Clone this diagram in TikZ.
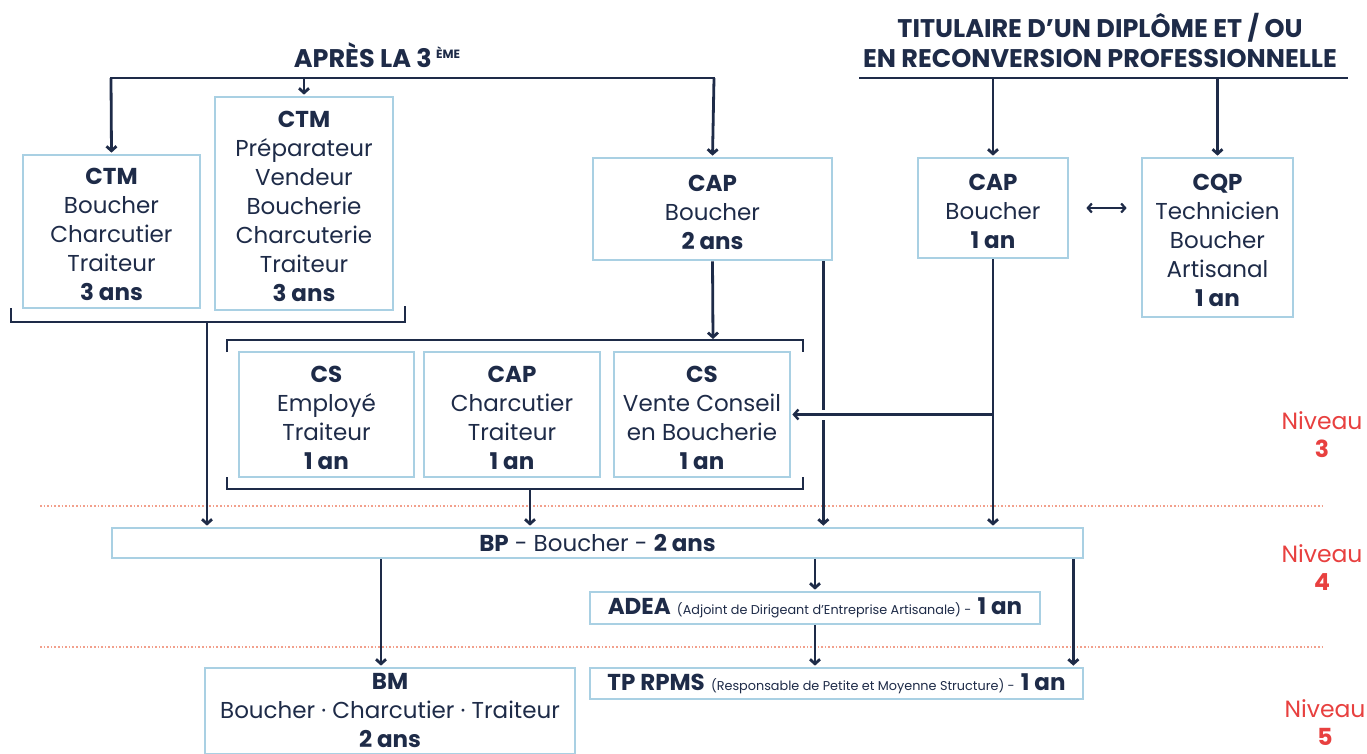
\documentclass[tikz,border=0pt]{standalone}
\usepackage{fontspec}
\setmainfont{Poppins}
\usetikzlibrary{arrows.meta,positioning}
\definecolor{navy}{HTML}{1E2B48}
\definecolor{boxblue}{HTML}{A9D0E3}
\definecolor{niveaured}{HTML}{E8403F}
\definecolor{salmon}{HTML}{F2A08C}
\tikzset{
  title/.style={font=\bfseries\fontsize{25.5}{30}\selectfont,text=navy,align=center},
  box/.style={draw=boxblue,line width=2.7pt,fill=white,inner sep=0pt,align=center,text=navy,font=\fontsize{23}{29}\selectfont},
  wide/.style={box,font=\fontsize{23}{25}\selectfont},
  niveau/.style={text=niveaured,align=center,font=\fontsize{23.5}{28}\selectfont},
  conn/.style={draw=navy,line width=2.8pt,line cap=rect},
  arr/.style={-{Straight Barb[length=4.5pt,width=10pt]},draw=navy,line width=2.8pt,shorten >=1pt},
  level/.style={draw=salmon,line width=2pt,dash pattern=on 1.6pt off 2pt}
}
\newcommand\petit[1]{{\fontsize{12.8}{15}\selectfont #1}}
\newcommand\tete[1]{\rule{0pt}{23pt}\textbf{#1}}
\begin{document}
\begin{tikzpicture}[x=1pt,y=-1pt]
\clip (0,0) rectangle (1367,753);
\fill[white] (0,0) rectangle (1367,753);
% titres
\node[title] (apres) at (377,55) {APRÈS LA 3\,\raisebox{0.6ex}{\fontsize{12}{12}\selectfont ÈME}};
\node[title] (titulaire) at (1100,40) {TITULAIRE D’UN DIPLÔME ET / OU\\EN RECONVERSION PROFESSIONNELLE};
\coordinate (barA) at (111,78);
\coordinate (barAe) at (714,78);
\coordinate (barB) at (860,78);
\coordinate (barBe) at (1347,78);
% niveaux
\draw[level] (40,506) -- (1325,506);
\draw[level] (40,647) -- (1325,647);
\node[niveau] (niv3) at (1322,435) {Niveau\\\textbf{3}};
\node[niveau] (niv4) at (1322,568) {Niveau\\\textbf{4}};
\node[niveau] (niv5) at (1325,723) {Niveau\\\textbf{5}};
% formations
\node[box,minimum width=177pt,minimum height=153pt] (ctm1) at (111.5,231.5) {\tete{CTM}\\Boucher\\Charcutier\\Traiteur\\\textbf{3 ans}};
\node[box,minimum width=178pt,minimum height=213pt] (ctm2) at (304,203.5) {\tete{CTM}\\Préparateur\\Vendeur\\Boucherie\\Charcuterie\\Traiteur\\\textbf{3 ans}};
\node[box,minimum width=239pt,minimum height=102pt] (cap2) at (712.5,209) {\tete{CAP}\\Boucher\\\textbf{2 ans}};
\node[box,minimum width=150pt,minimum height=100pt] (cap1) at (993,208) {\tete{CAP}\\Boucher\\\textbf{1 an}};
\node[box,minimum width=151pt,minimum height=159pt] (cqp) at (1217.5,237.5) {\tete{CQP}\\Technicien\\Boucher\\Artisanal\\\textbf{1 an}};
\node[box,minimum width=175pt,minimum height=125pt] (cs1) at (326.5,414.5) {\tete{CS}\\Employé\\Traiteur\\\textbf{1 an}};
\node[box,minimum width=176pt,minimum height=125pt] (capc) at (512,414.5) {\tete{CAP}\\Charcutier\\Traiteur\\\textbf{1 an}};
\node[box,minimum width=176pt,minimum height=125pt] (cs3) at (702,414.5) {\tete{CS}\\Vente Conseil\\en Boucherie\\\textbf{1 an}};
\node[wide,minimum width=971pt,minimum height=30pt] (bp) at (597.5,543) {\textbf{BP} - Boucher - \textbf{2 ans}};
\node[wide,minimum width=450pt,minimum height=32pt] (adea) at (815,608) {\textbf{ADEA} \petit{(Adjoint de Dirigeant d'Entreprise Artisanale) -} \textbf{1 an}};
\node[wide,minimum width=493pt,minimum height=31pt] (tp) at (836.5,683.5) {\textbf{TP RPMS} \petit{(Responsable de Petite et Moyenne Structure) -} \textbf{1 an}};
\node[box,minimum width=370pt,minimum height=86pt] (bm) at (390,711) {\textbf{BM}\\Boucher · Charcutier · Traiteur\\\textbf{2 ans}};
% accolades
\draw[conn,line cap=butt] (11,308) |- (405,322) -- (405,306);
\draw[conn,line cap=butt] (227,352) |- (803,340) -- (803,352);
\draw[conn,line cap=butt] (227,477) |- (803,489) -- (803,477);
\coordinate (brA) at (207,322);
\coordinate (brBt) at (713,340);
\coordinate (brBb) at (530,489);
% fleches
\draw[conn] (barA) -- (barAe);
\draw[arr] (barA) -- (ctm1.north);
\draw[arr] (ctm2.north |- barA) -- (ctm2.north);
\draw[arr] (barAe) -- (cap2.north);
\draw[conn] (barB) -- (barBe);
\draw[arr] (cap1.north |- barB) -- (cap1.north);
\draw[arr] (cqp.north |- barB) -- (cqp.north);
\draw[arr,shorten <=17pt,shorten >=14pt,{Straight Barb[length=4pt,width=9pt]}-{Straight Barb[length=4pt,width=9pt]},line width=2.2pt] (cap1.east) -- (cap1.east -| cqp.west);
\draw[arr] (brA) -- (brA |- bp.north);
\draw[arr] (cap2.south) -- (brBt);
\draw[arr] (brBb) -- (brBb |- bp.north);
\draw[arr] ([xshift=-10pt]cap2.south east) -- ([xshift=-10pt]cap2.south east |- bp.north);
\draw[arr] (cap1.south) -- (cap1.south |- bp.north);
\draw[white,line width=10pt] ([xshift=15pt]cs3.east) -- ([xshift=50pt]cs3.east);
\draw[arr,line width=2.4pt] (cap1.south |- cs3.east) -- (cs3.east);
\draw[arr] ([xshift=-9pt]bm.north |- bp.south) -- ([xshift=-9pt]bm.north);
\draw[arr] (adea.north |- bp.south) -- (adea.north);
\draw[arr] (adea.south) -- (adea.south |- tp.north);
\draw[arr] ([xshift=-11pt]tp.north east |- bp.south) -- ([xshift=-11pt]tp.north east);
\end{tikzpicture}
\end{document}
